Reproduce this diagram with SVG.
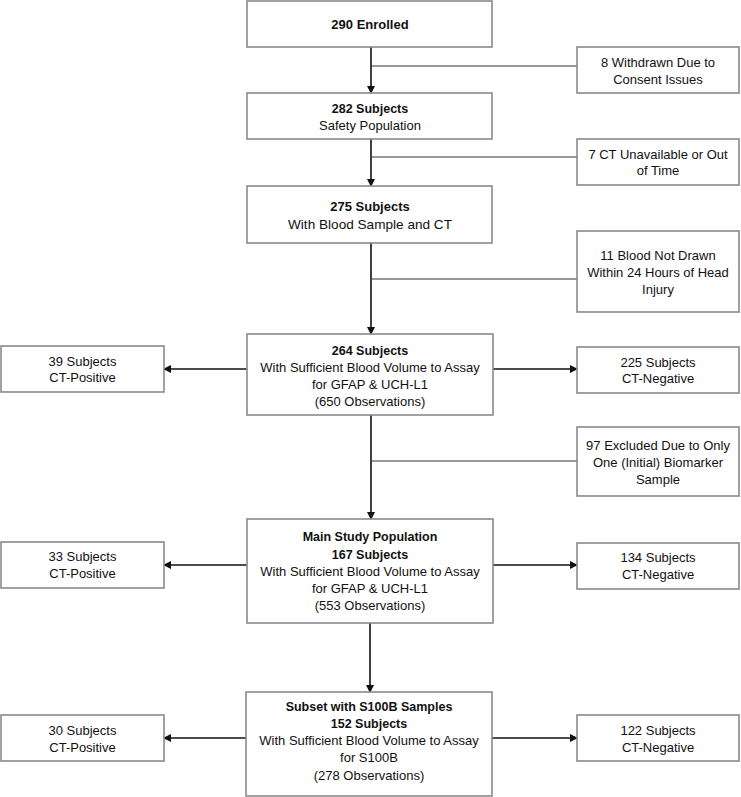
<svg xmlns="http://www.w3.org/2000/svg" width="741" height="797" viewBox="0 0 741 797">
<style>
.box{fill:#fff;stroke:#8a8a8a;stroke-width:1.6}
text{font-family:"Liberation Sans",Arial,sans-serif;font-size:13px;fill:#111;text-anchor:middle}
.b{font-weight:bold;font-size:12.5px}
.ln{stroke:#111;stroke-width:1.6;fill:none}
.br{stroke:#333;stroke-width:1;fill:none}
</style>
<defs>
<marker id="ah" markerWidth="8" markerHeight="8" refX="7" refY="4" orient="auto" markerUnits="userSpaceOnUse">
<path d="M0,0 L8,4 L0,8 z" fill="#111"/>
</marker>
</defs>
<rect width="741" height="797" fill="#fff"/>
<g id="connectors">
<line class="ln" x1="371" y1="47" x2="371" y2="93" marker-end="url(#ah)"/>
<line class="br" x1="371" y1="66" x2="577" y2="66"/>
<line class="ln" x1="371" y1="139" x2="371" y2="186" marker-end="url(#ah)"/>
<line class="br" x1="371" y1="157" x2="577" y2="157"/>
<line class="ln" x1="371" y1="243" x2="371" y2="334" marker-end="url(#ah)"/>
<line class="br" x1="371" y1="279" x2="577" y2="279"/>
<line class="ln" x1="247" y1="369" x2="164" y2="369" marker-end="url(#ah)"/>
<line class="ln" x1="493" y1="369" x2="577" y2="369" marker-end="url(#ah)"/>
<line class="ln" x1="371" y1="415" x2="371" y2="519" marker-end="url(#ah)"/>
<line class="br" x1="371" y1="461" x2="577" y2="461"/>
<line class="ln" x1="247" y1="565" x2="164" y2="565" marker-end="url(#ah)"/>
<line class="ln" x1="493" y1="565" x2="577" y2="565" marker-end="url(#ah)"/>
<line class="ln" x1="370" y1="623" x2="370" y2="692" marker-end="url(#ah)"/>
<line class="ln" x1="246" y1="738" x2="164" y2="738" marker-end="url(#ah)"/>
<line class="ln" x1="492" y1="738" x2="577" y2="738" marker-end="url(#ah)"/>
</g>
<g id="enrolled"><rect class="box" x="247" y="1" width="245" height="46"/><text class="b" x="370" y="29" style="font-size:13px">290 Enrolled</text></g>
<g id="withdrawn"><rect class="box" x="577" y="47" width="162" height="46"/><text x="658" y="67">8 Withdrawn Due to</text><text x="658" y="83.5">Consent Issues</text></g>
<g id="safety"><rect class="box" x="247" y="93" width="245" height="46"/><text class="b" x="370" y="112.5">282 Subjects</text><text x="370" y="129.5">Safety Population</text></g>
<g id="ctunavail"><rect class="box" x="577" y="139" width="162" height="46"/><text x="658" y="158.5">7 CT Unavailable or Out</text><text x="658" y="175">of Time</text></g>
<g id="bloodct"><rect class="box" x="247" y="186" width="245" height="57"/><text class="b" x="370" y="210.5" style="font-size:13px">275 Subjects</text><text x="370" y="229" style="font-size:13.6px">With Blood Sample and CT</text></g>
<g id="notdrawn"><rect class="box" x="577" y="231" width="162" height="81"/><text x="658" y="260">11 Blood Not Drawn</text><text x="658" y="277">Within 24 Hours of Head</text><text x="658" y="294">Injury</text></g>
<g id="s264"><rect class="box" x="247" y="334" width="246" height="81"/><text class="b" x="370" y="354.5">264 Subjects</text><text x="370" y="372">With Sufficient Blood Volume to Assay</text><text x="370" y="389">for GFAP &amp; UCH-L1</text><text x="370" y="406">(650 Observations)</text></g>
<g id="pos39"><rect class="box" x="1" y="346" width="163" height="46"/><text x="82.5" y="365.5">39 Subjects</text><text x="82.5" y="382">CT-Positive</text></g>
<g id="neg225"><rect class="box" x="577" y="347" width="162" height="46"/><text x="658" y="366.5">225 Subjects</text><text x="658" y="383">CT-Negative</text></g>
<g id="excluded97"><rect class="box" x="577" y="427" width="162" height="69"/><text x="658" y="449.5">97 Excluded Due to Only</text><text x="658" y="466.5">One (Initial) Biomarker</text><text x="658" y="483.5">Sample</text></g>
<g id="main"><rect class="box" x="247" y="519" width="246" height="104"/><text class="b" x="370" y="541">Main Study Population</text><text class="b" x="370" y="558.5">167 Subjects</text><text x="370" y="575.5">With Sufficient Blood Volume to Assay</text><text x="370" y="592.5">for GFAP &amp; UCH-L1</text><text x="370" y="609.5">(553 Observations)</text></g>
<g id="pos33"><rect class="box" x="1" y="542" width="163" height="46"/><text x="82.5" y="561">33 Subjects</text><text x="82.5" y="578">CT-Positive</text></g>
<g id="neg134"><rect class="box" x="577" y="543" width="162" height="46"/><text x="658" y="562">134 Subjects</text><text x="658" y="579">CT-Negative</text></g>
<g id="subset"><rect class="box" x="246" y="692" width="246" height="104"/><text class="b" x="369" y="711">Subset with S100B Samples</text><text class="b" x="369" y="728">152 Subjects</text><text x="369" y="745">With Sufficient Blood Volume to Assay</text><text x="369" y="762">for S100B</text><text x="369" y="779.5">(278 Observations)</text></g>
<g id="pos30"><rect class="box" x="1" y="715" width="163" height="46"/><text x="82.5" y="734.5">30 Subjects</text><text x="82.5" y="751.5">CT-Positive</text></g>
<g id="neg122"><rect class="box" x="577" y="715" width="162" height="46"/><text x="658" y="734.5">122 Subjects</text><text x="658" y="751.5">CT-Negative</text></g>
</svg>
